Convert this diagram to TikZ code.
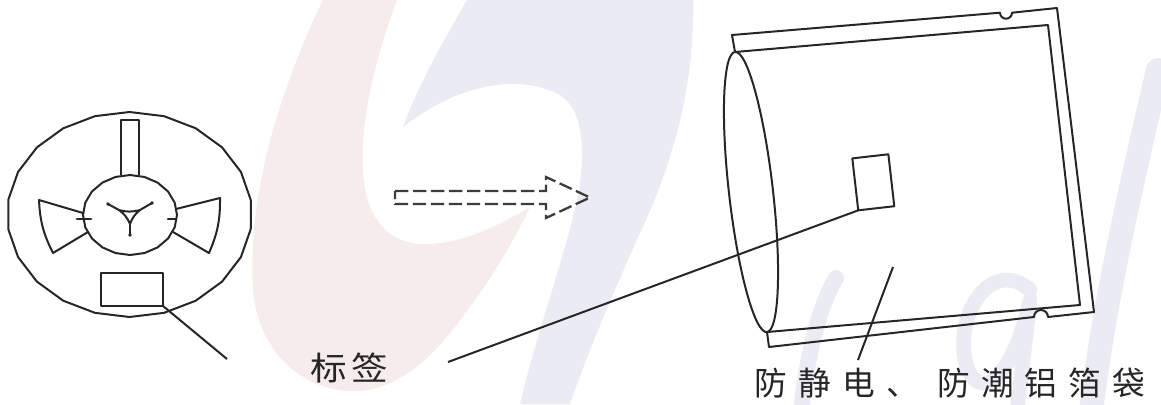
\documentclass[tikz,border=0pt]{standalone}
\usepackage{fontspec}
\newfontfamily\cjktag[LetterSpace=12]{Noto Sans CJK SC}
\newfontfamily\cjkbag[LetterSpace=34]{Noto Sans CJK SC}
\definecolor{ink}{RGB}{38,38,38}
\definecolor{blush}{RGB}{247,236,236}
\definecolor{haze}{RGB}{234,235,243}
\begin{document}
\begin{tikzpicture}[x=0.75pt,y=-0.75pt,
  outline/.style={draw=ink,line width=1.5pt,line join=round},
  leader/.style={draw=ink,line width=1.5pt},
  tagbox/.style={outline,rectangle,inner sep=0pt,outer sep=0pt},
  caption/.style={text=ink,inner sep=0pt,font=\fontsize{24.5}{26}\selectfont},
  hollowarrow/.style={draw=ink!90,line width=1.7pt,dash pattern=on 10pt off 3.5pt,line join=miter},
  lettering/.style={draw=haze,line cap=round,line join=round}]
\useasboundingbox (0,0) rectangle (1161,404);

% ---------- background logo: two interlocking hooks ----------
\fill[blush] (323,0) -- (397,0)
  .. controls (375,60) and (360,120) .. (363,170)
  .. controls (365,215) and (385,243) .. (423,244)
  .. controls (460,245) and (500,225) .. (530,207)
  .. controls (505,260) and (470,310) .. (440,345)
  .. controls (415,372) and (385,392) .. (352,391)
  .. controls (300,390) and (258,350) .. (253,290)
  .. controls (248,210) and (270,110) .. (323,0) -- cycle;
\fill[haze] (467,0) -- (693,0)
  .. controls (695,90) and (670,170) .. (640,233)
  .. controls (610,300) and (585,360) .. (570,404) -- (520,404)
  .. controls (535,340) and (560,270) .. (573,217)
  .. controls (588,160) and (585,110) .. (560,95)
  .. controls (530,78) and (470,75) .. (403,127)
  .. controls (420,80) and (450,30) .. (467,0) -- cycle;
% script lettering
\draw[lettering,line width=12pt] (802,404) .. controls (808,350) and (820,305) .. (836,278);
\draw[lettering,line width=11pt] (1030,290) .. controls (990,255) and (950,320) .. (968,370)
  .. controls (985,404) and (1015,370) .. (1030,300) -- (1018,404);
\draw[lettering,line width=18pt] (1158,70) .. controls (1130,190) and (1105,300) .. (1092,404);

% ---------- reel ----------
\draw[outline] plot[samples=23,domain=-90:270] ({129.5+122.5*cos(\x)},{214.5+102.5*sin(\x)}) -- cycle;
\draw[outline] plot[samples=21,domain=-90:270] ({130+47*cos(\x)},{215+40*sin(\x)}) -- cycle;
% spoke window on top
\draw[outline] (121,175) -- (121,120) -- (139,120) -- (139,175);
% side windows
\draw[outline] (83,213) -- (39,200) to[bend right=12] (53,253) -- (88,232);
\draw[outline] (176,209) -- (220,198) to[bend left=12] (209,253) -- (173,232);
% catches on the hub rim
\draw[outline,line cap=round,line width=1.8pt] (77,219) -- (91,219);
\draw[outline,line cap=round,line width=1.8pt] (168,219) -- (176,219);
% hub centre
\draw[outline] (119,210) to[bend right=15] (140,210) to[bend right=15] (130,224) to[bend right=15] (119,210);
\draw[outline,line cap=round] (119,210) -- (108,204);
\draw[outline,line cap=round] (140,210) -- (152,203);
\draw[outline,line cap=round] (130,224) -- (130,235);
\fill[ink] (108,204) circle[radius=1.8] (152,203) circle[radius=1.8] (130,235) circle[radius=1.8];
% label on the reel
\node[tagbox,minimum width=46.5pt,minimum height=24.75pt] (reeltag) at (132,289.5) {};

% ---------- dashed arrow ----------
\draw[hollowarrow] (395,191) -- (546,191) -- (546,177) -- (590,197.5) -- (546,218) -- (546,204) -- (395,204) -- cycle;

% ---------- bag ----------
\coordinate (oTL) at (732,35);
\coordinate (oTR) at (1057,8);
\coordinate (oBR) at (1094,312);
\coordinate (oBL) at (769,347);
\coordinate (iTL) at (735,52);
\coordinate (iTR) at (1048,25);
\coordinate (iBR) at (1080,305);
\coordinate (iBL) at (767,332);
% outer seal with the two tear notches
\draw[outline] (iTL) -- (oTL) -- (1000,12.7) arc[start angle=180,end angle=0,radius=6] -- (oTR)
  -- (oBR) -- (1048,317) arc[start angle=0,end angle=-180,radius=7] -- (oBL) -- (iBL);
% inner body
\draw[outline] (iTL) -- (iTR) -- (iBR) -- (iBL);
% open end
\draw[outline,rotate around={6.5:(751,192)}] (751,192) ellipse[x radius=22,y radius=141];
% label on the bag
\node[tagbox,rotate=6.5,minimum width=27.2pt,minimum height=39.2pt] (bagtag) at (873.3,182.3) {};

% ---------- captions ----------
\node[caption,xscale=1.12] (tagtext) at (349,367.5) {\cjktag 标签};
\node[caption] (bagtext) at (950,383) {\cjkbag 防静电、 防潮铝箔袋};

\coordinate (reelend) at (227,359);
\coordinate (bagend) at (448,362);
\coordinate (bagpt) at (893,267);
\coordinate (bagtxt) at (858,360);
\draw[leader] (reeltag.south east) -- (reelend);
\draw[leader] (bagtag.south west) -- (bagend);
\draw[leader] (bagpt) -- (bagtxt);
\end{tikzpicture}
\end{document}
